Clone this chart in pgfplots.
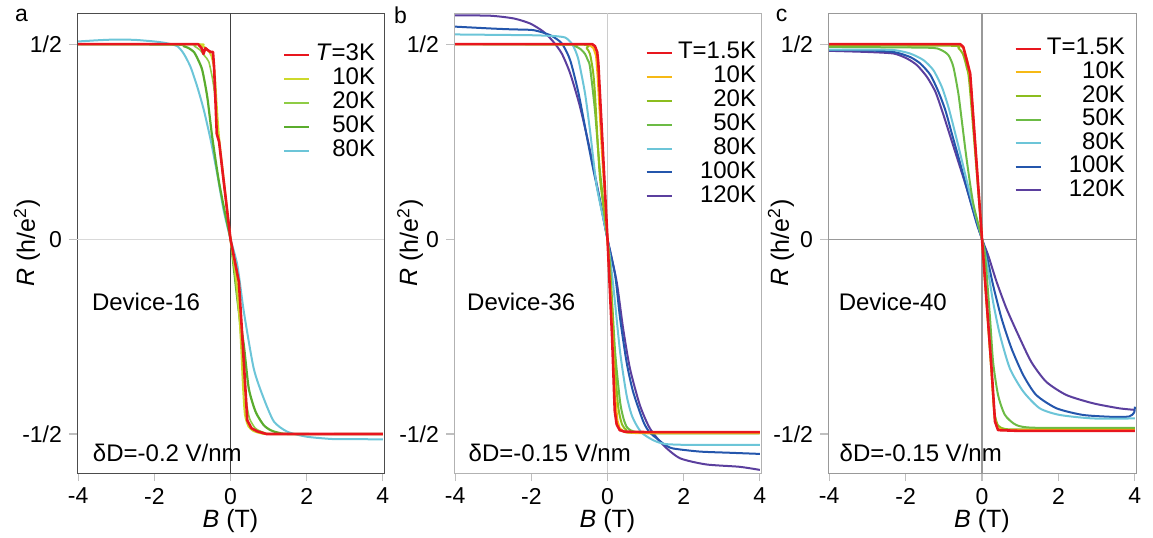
\documentclass[border=0pt]{standalone}
\usepackage{fontspec}
\setmainfont{Liberation Sans}
\usepackage{pgfplots}
\pgfplotsset{compat=1.18}

\definecolor{cRed}{HTML}{E8161E}
\definecolor{cYelA}{HTML}{CDD92B}
\definecolor{cLgrA}{HTML}{8FCC45}
\definecolor{cGrA}{HTML}{5AAC2D}
\definecolor{cCyan}{HTML}{6CC5D8}
\definecolor{cOrange}{HTML}{F6B915}
\definecolor{cYgr}{HTML}{8CBD1E}
\definecolor{cGr}{HTML}{6CBB45}
\definecolor{cBlue}{HTML}{2456AC}
\definecolor{cPurple}{HTML}{5B3F9E}

\pgfplotsset{
  panel/.style={
    scale only axis, width=153.5pt, height=230pt,
    xmin=-4.03, xmax=4.03, ymin=-0.6, ymax=0.58,
    xtick={-4,-2,0,2,4}, xticklabels={-4,-2,0,2,4},
    ytick={-0.5,0,0.5}, yticklabels={-1/2,0,1/2},
    tick align=outside, xtick pos=bottom, ytick pos=left,
    major tick length=4pt,
    tick style={draw=black!25, line width=0.6pt},
    ticklabel style={font=\fontsize{11.5}{13}\selectfont},
    xlabel={\textit{B} (T)},
    ylabel={\textit{R} (h/e\textsuperscript{2})},
    label style={font=\fontsize{12.5}{14}\selectfont},
    xlabel style={at={(axis description cs:0.5,-0.104)}, anchor=center},
    legend cell align=right,
    reverse legend,
    legend image code/.code={\draw[#1] (0pt,0pt) -- (12.5pt,0pt);},
    every axis plot/.append style={line width=1pt, line join=round},
  },
  sm/.style={smooth, tension=0.4},
  leg/.style 2 args={legend style={draw=none, fill=none, inner sep=0pt, outer sep=0pt,
    font=\fontsize{12}{14}\selectfont, anchor=north east, at={#1},
    nodes={inner sep=0pt, text height=8.5pt, text depth=2.5pt},
    column sep=2.5pt, row sep=#2}},
}

\begin{document}
\begin{tikzpicture}

% ---- panel a ----
\begin{axis}[panel, at={(38.5pt,-6.5pt)}, anchor=north west,
  axis line style={draw=black!70},
  ylabel style={at={(axis description cs:-0.163,0.5)}, anchor=center},
  leg={(rel axis cs:0.971,0.933)}{1.0pt}]
\draw[black!15, line width=0.6pt] (axis cs:-4.03,0) -- (axis cs:4.03,0);
\draw[black!75, line width=0.6pt] (axis cs:0,-0.6) -- (axis cs:0,0.58);
\addplot[cCyan, sm] coordinates {(-4,0.507) (-3.5,0.51) (-3,0.512) (-2.5,0.511) (-2,0.507) (-1.7,0.503) (-1.4,0.495) (-1.23,0.476) (-1.05,0.442) (-0.87,0.39) (-0.7,0.331) (-0.52,0.254) (-0.35,0.168) (-0.18,0.074) (0,0) (0.18,-0.067) (0.35,-0.186) (0.61,-0.332) (0.87,-0.408) (1.14,-0.468) (1.49,-0.494) (2.01,-0.507) (2.71,-0.513) (3.3,-0.513) (4,-0.514)};
\addlegendentry{80K}
\addplot[cGrA, sm, line width=1.1pt] coordinates {(-4,0.5) (-1.4,0.499) (-1.23,0.495) (-1.1,0.49) (-0.96,0.48) (-0.85,0.46) (-0.74,0.433) (-0.61,0.365) (-0.48,0.262) (-0.31,0.151) (-0.15,0.07) (0,0) (0.04,-0.033) (0.2,-0.17) (0.35,-0.272) (0.48,-0.383) (0.66,-0.443) (0.87,-0.477) (1.05,-0.49) (1.23,-0.496) (1.6,-0.5) (4,-0.5)};
\addlegendentry{50K}
\addplot[cLgrA, sm, line width=0.8pt] coordinates {(-4,0.5) (-1.1,0.499) (-0.95,0.495) (-0.8,0.485) (-0.68,0.47) (-0.57,0.455) (-0.47,0.41) (-0.4,0.36) (-0.33,0.28) (-0.2,0.16) (0,0) (0.15,-0.12) (0.28,-0.26) (0.35,-0.35) (0.42,-0.42) (0.5,-0.46) (0.65,-0.485) (0.85,-0.495) (1.2,-0.5) (4,-0.5)};
\addlegendentry{20K}
\addplot[cYelA, sm] coordinates {(-4,0.5) (-0.9,0.5) (-0.75,0.497) (-0.6,0.485) (-0.5,0.47) (-0.42,0.43) (-0.36,0.34) (-0.3,0.26) (-0.15,0.13) (0,0) (0.15,-0.1) (0.25,-0.22) (0.33,-0.38) (0.38,-0.45) (0.47,-0.48) (0.6,-0.492) (0.8,-0.498) (1.1,-0.5) (4,-0.5)};
\addlegendentry{10K}
\addplot[cRed, line width=1.3pt] coordinates {(-4,0.5) (-0.85,0.5) (-0.76,0.49) (-0.71,0.475) (-0.66,0.49) (-0.6,0.485) (-0.52,0.48) (-0.46,0.48) (-0.43,0.44) (-0.36,0.27) (-0.33,0.26) (-0.3,0.25) (0,0) (0.22,-0.11) (0.31,-0.25) (0.44,-0.465) (0.55,-0.485) (0.7,-0.493) (0.95,-0.5) (4,-0.5)};
\addlegendentry{\textit{T}=3K}
\node[anchor=west, font=\fontsize{12}{14}\selectfont] at (rel axis cs:0.026,0.372) {Device-16};
\node[anchor=west, font=\fontsize{12}{14}\selectfont] at (rel axis cs:0.029,0.043) {δD=-0.2 V/nm};
\end{axis}

% ---- panel b ----
\begin{axis}[panel, at={(227pt,-6.5pt)}, anchor=north west,
  axis line style={draw=black!30},
  ylabel style={at={(axis description cs:-0.143,0.5)}, anchor=center},
  leg={(rel axis cs:0.984,0.937)}{0.95pt}]
\draw[black!20, line width=0.6pt] (axis cs:0,-0.6) -- (axis cs:0,0.58);
\addplot[cPurple, sm] coordinates {(-4,0.574) (-3.07,0.573) (-2.46,0.566) (-2.03,0.553) (-1.68,0.532) (-1.42,0.506) (-1.2,0.476) (-0.98,0.425) (-0.72,0.339) (-0.46,0.228) (-0.2,0.1) (0,0) (0.24,-0.109) (0.41,-0.229) (0.59,-0.332) (0.85,-0.426) (1.11,-0.485) (1.46,-0.528) (1.9,-0.562) (2.59,-0.578) (3.46,-0.584) (4,-0.592)};
\addlegendentry{120K}
\addplot[cBlue, sm] coordinates {(-4,0.545) (-3,0.54) (-2.5,0.538) (-1.94,0.536) (-1.5,0.523) (-1.2,0.502) (-0.98,0.459) (-0.76,0.374) (-0.54,0.262) (-0.37,0.177) (-0.2,0.1) (0,0) (0.2,-0.092) (0.33,-0.203) (0.5,-0.315) (0.67,-0.391) (0.94,-0.468) (1.1,-0.495) (1.29,-0.511) (1.5,-0.527) (1.72,-0.537) (2.42,-0.545) (3.2,-0.548) (4,-0.551)};
\addlegendentry{100K}
\addplot[cCyan, sm] coordinates {(-4,0.525) (-3,0.524) (-2,0.523) (-1.42,0.521) (-1.11,0.517) (-0.94,0.502) (-0.85,0.485) (-0.76,0.459) (-0.59,0.374) (-0.46,0.279) (-0.28,0.134) (0,0) (0.15,-0.118) (0.33,-0.289) (0.5,-0.4) (0.63,-0.45) (0.76,-0.477) (0.9,-0.497) (1.11,-0.511) (1.3,-0.52) (1.55,-0.526) (2.16,-0.528) (3,-0.528) (4,-0.528)};
\addlegendentry{80K}
\addplot[cGr, sm] coordinates {(-4,0.5) (-1,0.499) (-0.85,0.495) (-0.7,0.487) (-0.59,0.475) (-0.52,0.46) (-0.46,0.442) (-0.33,0.331) (-0.2,0.177) (0,0) (0.07,-0.075) (0.2,-0.289) (0.33,-0.417) (0.42,-0.46) (0.5,-0.481) (0.6,-0.49) (0.76,-0.495) (1.2,-0.498) (4,-0.498)};
\addlegendentry{50K}
\addplot[cYgr, sm] coordinates {(-4,0.5) (-0.7,0.499) (-0.55,0.49) (-0.46,0.475) (-0.38,0.43) (-0.33,0.374) (-0.2,0.16) (0,0) (0.1,-0.14) (0.2,-0.33) (0.28,-0.43) (0.38,-0.475) (0.5,-0.49) (0.7,-0.497) (4,-0.498)};
\addlegendentry{20K}
\addplot[cOrange] coordinates {(-4,0.5) (-0.5,0.5) (-0.37,0.49) (-0.3,0.47) (-0.26,0.42) (-0.15,0.23) (0,0) (0.12,-0.22) (0.2,-0.4) (0.26,-0.465) (0.32,-0.485) (0.45,-0.495) (0.8,-0.498) (4,-0.498)};
\addlegendentry{10K}
\addplot[cRed, line width=1.3pt] coordinates {(-4,0.5) (-0.4,0.5) (-0.33,0.495) (-0.27,0.48) (-0.24,0.45) (0,0) (0.12,-0.25) (0.19,-0.44) (0.24,-0.475) (0.32,-0.49) (0.45,-0.494) (1,-0.495) (4,-0.495)};
\addlegendentry{T=1.5K}
\node[anchor=west, font=\fontsize{12}{14}\selectfont] at (rel axis cs:0.02,0.372) {Device-36};
\node[anchor=west, font=\fontsize{12}{14}\selectfont] at (rel axis cs:0.025,0.043) {δD=-0.15 V/nm};
\end{axis}

% ---- panel c ----
\begin{axis}[panel, at={(414pt,-6.5pt)}, anchor=north west, width=154pt,
  axis line style={draw=black!40},
  ylabel style={at={(axis description cs:-0.153,0.5)}, anchor=center},
  leg={(rel axis cs:0.964,0.946)}{0.8pt}]
\draw[black!40, line width=0.6pt] (axis cs:-4.03,0) -- (axis cs:4.03,0);
\draw[black!40, line width=0.6pt] (axis cs:0,-0.6) -- (axis cs:0,0.58);
\addplot[cPurple, sm] coordinates {(-4,0.483) (-3,0.48) (-2.31,0.476) (-1.96,0.463) (-1.7,0.446) (-1.44,0.416) (-1.22,0.378) (-1.05,0.331) (-0.88,0.279) (-0.66,0.211) (-0.44,0.143) (-0.23,0.074) (0,0) (0.16,-0.041) (0.38,-0.109) (0.64,-0.178) (0.95,-0.246) (1.29,-0.315) (1.68,-0.366) (2.21,-0.4) (2.9,-0.421) (3.59,-0.434) (4,-0.438)};
\addlegendentry{120K}
\addplot[cBlue, sm] coordinates {(-4,0.485) (-3,0.484) (-2.31,0.48) (-1.88,0.467) (-1.61,0.45) (-1.35,0.421) (-1.14,0.378) (-0.96,0.331) (-0.79,0.271) (-0.57,0.194) (-0.36,0.117) (-0.14,0.04) (0,0) (0.12,-0.041) (0.29,-0.118) (0.51,-0.203) (0.77,-0.28) (1.08,-0.349) (1.42,-0.4) (1.95,-0.434) (2.64,-0.451) (3.42,-0.456) (3.85,-0.455) (3.98,-0.445) (4,-0.43)};
\addlegendentry{100K}
\addplot[cCyan, sm] coordinates {(-4,0.486) (-3,0.486) (-2.31,0.485) (-1.88,0.476) (-1.53,0.459) (-1.27,0.433) (-1.05,0.39) (-0.88,0.339) (-0.7,0.271) (-0.53,0.203) (-0.36,0.134) (-0.18,0.066) (0,0) (0.12,-0.058) (0.29,-0.161) (0.47,-0.246) (0.73,-0.332) (1.08,-0.391) (1.51,-0.434) (2.03,-0.451) (2.9,-0.46) (4,-0.46)};
\addlegendentry{80K}
\addplot[cGr, sm] coordinates {(-4,0.493) (-1.44,0.491) (-1.09,0.486) (-0.88,0.472) (-0.75,0.442) (-0.62,0.374) (-0.53,0.305) (-0.4,0.203) (-0.23,0.092) (0,0) (0.08,-0.041) (0.21,-0.203) (0.29,-0.315) (0.42,-0.4) (0.6,-0.451) (0.9,-0.477) (1.42,-0.484) (4,-0.484)};
\addlegendentry{50K}
\addplot[cYgr, sm] coordinates {(-4,0.497) (-0.8,0.496) (-0.62,0.49) (-0.5,0.475) (-0.4,0.44) (-0.32,0.39) (0,0) (0.22,-0.3) (0.32,-0.44) (0.42,-0.478) (0.6,-0.487) (1,-0.488) (4,-0.488)};
\addlegendentry{20K}
\addplot[cOrange] coordinates {(-4,0.5) (-0.6,0.5) (-0.48,0.49) (-0.38,0.455) (-0.3,0.41) (0,0) (0.24,-0.33) (0.33,-0.46) (0.4,-0.485) (0.55,-0.49) (4,-0.49)};
\addlegendentry{10K}
\addplot[cRed, line width=1.3pt] coordinates {(-4,0.5) (-0.57,0.5) (-0.49,0.493) (-0.4,0.459) (-0.31,0.425) (0,0) (0.25,-0.332) (0.34,-0.468) (0.42,-0.49) (1,-0.492) (4,-0.492)};
\addlegendentry{T=1.5K}
\node[anchor=west, font=\fontsize{12}{14}\selectfont] at (rel axis cs:0.012,0.372) {Device-40};
\node[anchor=west, font=\fontsize{12}{14}\selectfont] at (rel axis cs:0.015,0.043) {δD=-0.15 V/nm};
\end{axis}

% panel letters
\node[font=\fontsize{11.5}{13}\selectfont] at (10.8pt,-7.5pt) {a};
\node[font=\fontsize{11.5}{13}\selectfont] at (200.3pt,-7.5pt) {b};
\node[font=\fontsize{11.5}{13}\selectfont] at (390.8pt,-7.5pt) {c};

\pgfresetboundingbox
\useasboundingbox (0,0) rectangle (576.5pt,-268.5pt);
\end{tikzpicture}
\end{document}
